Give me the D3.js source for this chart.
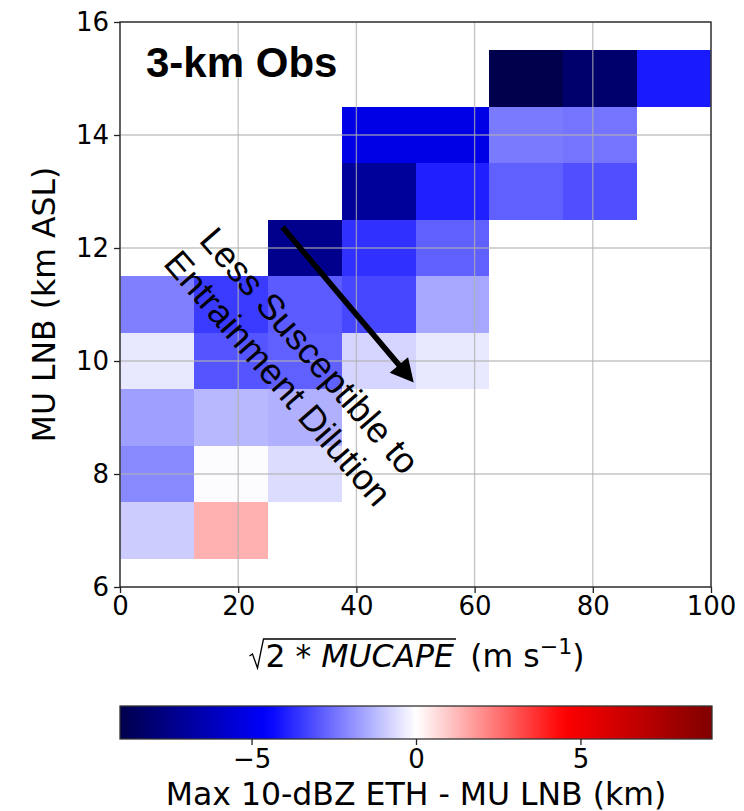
<!DOCTYPE html>
<html><head><meta charset="utf-8">
<script src="https://cdn.jsdelivr.net/npm/d3@7"></script>
<style>body{margin:0;background:#fff} svg{display:block}</style>
</head><body>
<svg id="chart" width="744" height="811"></svg>
<script>
// ---------------- data ----------------
const xBinStarts = [0, 12.5, 25, 37.5, 50, 62.5, 75, 87.5];
const binWidth = 12.5;
const yCenters = [7, 8, 9, 10, 11, 12, 13, 14, 15];
const binHeight = 1;
// values[row for yCenters[i]][column for xBinStarts[j]]  (null = no data)
const row7  = [-0.9,  1.4,  null, null,  null,  null,  null,  null];
const row8  = [-2.1, -0.05, -0.62, null, null,  null,  null,  null];
const row9  = [-1.7, -1.25, -1.4, null,  null,  null,  null,  null];
const row10 = [-0.4, -3.0,  -2.8, -0.75, -0.4,  null,  null,  null];
const row11 = [-2.25,-3.45, -2.9, -3.25, -1.55, null,  null,  null];
const row12 = [null, null,  -7.4, -3.65, -2.8,  null,  null,  null];
const row13 = [null, null,  null, -7.05, -3.95, -2.8,  -3.1,  null];
const row14 = [null, null,  null, -5.1,  -5.1,  -2.35, -2.45, null];
const row15 = [null, null,  null, null,  null,  -9.0,  -8.2,  -4.05];
const values = [row7, row8, row9, row10, row11, row12, row13, row14, row15];

const xTicks = [0, 20, 40, 60, 80, 100];
const yTicks = [6, 8, 10, 12, 14, 16];
const cbTicks = [-5, 0, 5];
const colorLimits = [-9, 9];
const xDomain = [0, 100];
const yDomain = [6, 16];

const titleText = "3-km Obs";
const annotationLines = ["Less Susceptible to", "Entrainment Dilution"];
const arrowStart = [27.5, 12.37];
const arrowEnd = [49.7, 9.62];
const yLabel = "MU LNB (km ASL)";
const cbLabel = "Max 10-dBZ ETH - MU LNB (km)";

// ---------------- layout ----------------
const svg = d3.select("#chart");
const L = 120, R = 711, T = 22, B = 587;
const sx = d3.scaleLinear().domain(xDomain).range([L, R]);
const sy = d3.scaleLinear().domain(yDomain).range([B, T]);
// matplotlib "seismic"
const cmap = d3.scaleLinear()
  .domain([colorLimits[0], colorLimits[0]/2, 0, colorLimits[1]/2, colorLimits[1]])
  .range(["#00004c", "#0000ff", "#ffffff", "#ff0000", "#800000"])
  .interpolate(d3.interpolateRgb).clamp(true);

const tickFont = "DejaVu Sans, sans-serif";
const tickSize = 26, labelSize = 31.5;

// cells
const cells = [];
values.forEach((row, i) => row.forEach((v, j) => { if (v !== null) cells.push({i, j, v}); }));
svg.append("g").selectAll("rect").data(cells).join("rect")
  .attr("x", d => sx(xBinStarts[d.j]))
  .attr("y", d => sy(yCenters[d.i] + binHeight/2))
  .attr("width", d => sx(xBinStarts[d.j] + binWidth) - sx(xBinStarts[d.j]))
  .attr("height", d => sy(yCenters[d.i] - binHeight/2) - sy(yCenters[d.i] + binHeight/2))
  .attr("fill", d => cmap(d.v))
  .attr("shape-rendering", "crispEdges");

// grid
const grid = svg.append("g").attr("stroke", "#b0b0b0").attr("stroke-opacity", 0.75).attr("stroke-width", 1.3);
grid.selectAll("line.gx").data(xTicks).join("line").attr("class","gx")
  .attr("x1", d => sx(d)).attr("x2", d => sx(d)).attr("y1", T).attr("y2", B);
grid.selectAll("line.gy").data(yTicks).join("line").attr("class","gy")
  .attr("y1", d => sy(d)).attr("y2", d => sy(d)).attr("x1", L).attr("x2", R);

// axes
function styleAxis(g) {
  g.selectAll("path.domain").remove();
  g.selectAll(".tick line").attr("stroke", "#222").attr("stroke-width", 1.3);
  g.selectAll(".tick text").attr("font-family", tickFont).attr("font-size", tickSize).attr("fill", "#000");
}
svg.append("g").attr("transform", `translate(0,${B})`)
  .call(d3.axisBottom(sx).tickValues(xTicks).tickSize(6).tickPadding(4).tickFormat(d3.format("d")))
  .call(styleAxis);
svg.append("g").attr("transform", `translate(${L},0)`)
  .call(d3.axisLeft(sy).tickValues(yTicks).tickSize(6).tickPadding(5).tickFormat(d3.format("d")))
  .call(styleAxis);
svg.append("rect").attr("x", L).attr("y", T).attr("width", R - L).attr("height", B - T)
  .attr("fill", "none").attr("stroke", "#222").attr("stroke-width", 1.3);

// title
svg.append("text").attr("x", 146).attr("y", 77)
  .attr("font-family", "Liberation Sans, Arial, sans-serif").attr("font-weight", "bold")
  .attr("font-size", 42).text(titleText);

// arrow
(function(){
  const x0 = sx(arrowStart[0]), y0 = sy(arrowStart[1]);
  const x1 = sx(arrowEnd[0]), y1 = sy(arrowEnd[1]);
  const len = Math.hypot(x1 - x0, y1 - y0);
  const ux = (x1 - x0) / len, uy = (y1 - y0) / len;
  const px = -uy, py = ux;
  const hl = 23, hw = 12, sw = 2.8;
  const bx = x1 - ux * hl, by = y1 - uy * hl;
  const pts = [
    [x0 + px*sw, y0 + py*sw], [bx + px*sw, by + py*sw], [bx + px*hw, by + py*hw],
    [x1, y1],
    [bx - px*hw, by - py*hw], [bx - px*sw, by - py*sw], [x0 - px*sw, y0 - py*sw]
  ];
  svg.append("polygon").attr("points", pts.map(p => p.join(",")).join(" ")).attr("fill", "#000");
})();

// annotation text
const ann = svg.append("g").attr("transform", "translate(292,366) rotate(49)");
ann.selectAll("text").data(annotationLines).join("text")
  .attr("x", 0).attr("y", (d, i) => (i - 0.5) * 42 + 10)
  .attr("text-anchor", "middle")
  .attr("font-family", "Liberation Sans, Arial, sans-serif").attr("font-size", 36)
  .text(d => d);

// y label
svg.append("text").attr("transform", `translate(55,${(T+B)/2}) rotate(-90)`)
  .attr("text-anchor", "middle").attr("font-family", tickFont).attr("font-size", labelSize)
  .text(yLabel);

// x label with radical
(function(){
  const base = 667;
  const t = svg.append("text").attr("y", base).attr("font-family", tickFont).attr("font-size", labelSize);
  const r1 = t.append("tspan").text("2");
  const r2 = t.append("tspan").text(" * ");
  const r3 = t.append("tspan").attr("font-style", "italic").text("MUCAPE");
  t.append("tspan").text("\u2009 (m s");
  t.append("tspan").attr("font-size", labelSize*0.7).attr("dy", -13).text("\u22121");
  t.append("tspan").attr("dy", 13).text(")");
  const w = t.node().getComputedTextLength();
  const radW = 15;
  const total = w + radW;
  const startX = (L + R) / 2 - total / 2 + 2;
  t.attr("x", startX + radW);
  const rs = r1.node().getStartPositionOfChar(0).x;
  const re = r3.node().getEndPositionOfChar(5).x;
  const top = base - 28;
  svg.append("path")
    .attr("d", `M${rs-16},${base-11} L${rs-13},${base-13} L${rs-8},${base+1} L${rs-2},${top} L${re+2},${top}`)
    .attr("fill", "none").attr("stroke", "#000").attr("stroke-width", 1.3);
})();

// colorbar
const cbL = 120, cbR = 712, cbT = 706, cbB = 739;
const cbScale = d3.scaleLinear().domain(colorLimits).range([cbL, cbR]);
const defs = svg.append("defs");
const grad = defs.append("linearGradient").attr("id", "cbgrad").attr("x1", "0%").attr("x2", "100%");
d3.range(0, 1.0001, 0.02).forEach(f => {
  const v = colorLimits[0] + f * (colorLimits[1] - colorLimits[0]);
  grad.append("stop").attr("offset", (f*100) + "%").attr("stop-color", cmap(v));
});
svg.append("rect").attr("x", cbL).attr("y", cbT).attr("width", cbR - cbL).attr("height", cbB - cbT)
  .attr("fill", "url(#cbgrad)").attr("stroke", "#333").attr("stroke-width", 1.3);
svg.append("g").attr("transform", `translate(0,${cbB})`)
  .call(d3.axisBottom(cbScale).tickValues(cbTicks).tickSize(6).tickPadding(5)
        .tickFormat(d => d < 0 ? "\u2212" + Math.abs(d) : String(d)))
  .call(styleAxis);
svg.append("text").attr("x", (cbL + cbR) / 2).attr("y", 805).attr("text-anchor", "middle")
  .attr("font-family", tickFont).attr("font-size", labelSize).text(cbLabel);
</script>
</body></html>
